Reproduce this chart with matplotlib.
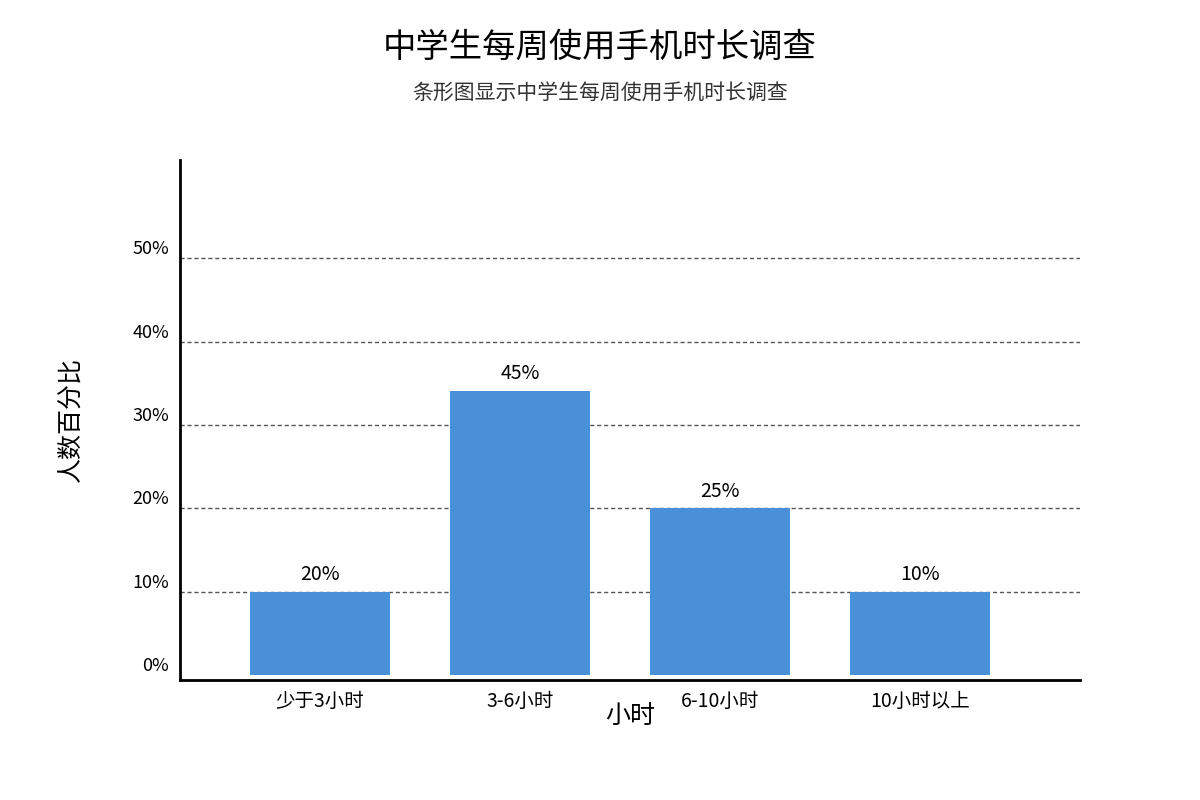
import matplotlib
matplotlib.use("Agg")
import matplotlib.pyplot as plt

plt.rcParams['font.family'] = ['Noto Sans CJK SC', 'DejaVu Sans']

categories = ["少于3小时", "3-6小时", "6-10小时", "10小时以上"]
bar_values = [10, 34.1, 20, 10]
bar_labels = ["20%", "45%", "25%", "10%"]
yticks = [0, 10, 20, 30, 40, 50]
ytick_labels = ["0%", "10%", "20%", "30%", "40%", "50%"]

fig = plt.figure(figsize=(12, 8), dpi=100)
ax = fig.add_axes([180/1200, 120/800, 900/1200, 520/800])
x = range(len(categories))
ax.bar(x, bar_values, width=0.7, color="#4a90d9", zorder=2)
for i, (v, l) in enumerate(zip(bar_values, bar_labels)):
    ax.text(i, v + 0.8, l, ha="center", va="bottom", fontsize=14)
ax.set_xlim(-0.7, 3.8)
ax.set_ylim(-0.6, 61.8)
ax.set_yticks(yticks)
ax.set_yticklabels(ytick_labels, fontsize=13)
for t in ax.get_yticklabels():
    t.set_verticalalignment("bottom")
ax.set_xticks(list(x))
ax.set_xticklabels(categories, fontsize=14)
ax.tick_params(axis="both", length=0, pad=8)
for y in yticks[1:]:
    ax.axhline(y, color="#555555", linestyle=(0, (3, 2)), linewidth=1, zorder=1)
ax.spines["top"].set_visible(False)
ax.spines["right"].set_visible(False)
ax.spines["left"].set_linewidth(2)
ax.spines["bottom"].set_linewidth(2)
ax.set_xlabel("小时", fontsize=18, labelpad=-6)
ax.set_ylabel("人数百分比", fontsize=18, labelpad=35)
fig.text(0.5, 1 - 47/800, "中学生每周使用手机时长调查", ha="center", va="center", fontsize=24)
fig.text(0.5, 1 - 93/800, "条形图显示中学生每周使用手机时长调查", ha="center", va="center", fontsize=15, color="#333333")
fig.savefig("out.png")
